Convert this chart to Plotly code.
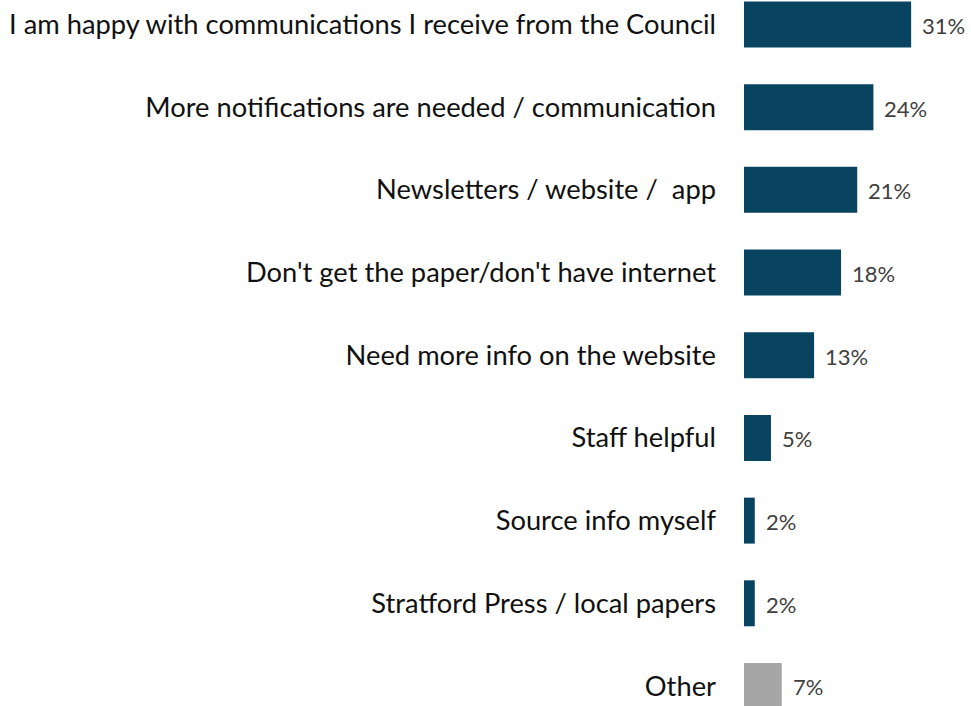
import plotly.graph_objects as go

# Survey responses about council communications (percent of respondents)
categories = [
    "I am happy with communications I receive from the Council",
    "More notifications are needed / communication",
    "Newsletters / website /  app",
    "Don't get the paper/don't have internet",
    "Need more info on the website",
    "Staff helpful",
    "Source info myself",
    "Stratford Press / local papers",
    "Other",
]
values = [31, 24, 21, 18, 13, 5, 2, 2, 7]
value_labels = ["31%", "24%", "21%", "18%", "13%", "5%", "2%", "2%", "7%"]

MAIN_COLOR = "#08445F"
OTHER_COLOR = "#A6A6A6"
colors = [OTHER_COLOR if c == "Other" else MAIN_COLOR for c in categories]

FONT = "Lato"

fig = go.Figure(
    go.Bar(
        x=values,
        y=categories,
        orientation="h",
        marker=dict(color=colors, line=dict(width=0)),
        width=0.556,
        hoverinfo="skip",
    )
)

# Percent labels just past the end of each bar
for cat, val, lab in zip(categories, values, value_labels):
    fig.add_annotation(
        x=val, y=cat, text=lab, showarrow=False,
        xanchor="left", yanchor="middle", xshift=9, yshift=-1,
        font=dict(family=FONT, size=22, color="#404040"),
    )

fig.update_layout(
    width=971, height=706,
    margin=dict(l=744, r=0, t=0, b=0),
    paper_bgcolor="white", plot_bgcolor="white",
    showlegend=False,
    font=dict(family=FONT),
)
fig.update_xaxes(
    range=[0, 42.1], visible=False, showgrid=False, zeroline=False,
)
fig.update_yaxes(
    categoryorder="array", categoryarray=categories[::-1],
    range=[-0.242, 8.296],
    showgrid=False, zeroline=False, showline=False, ticks="",
    tickfont=dict(family=FONT, size=27.3, color="#111111"),
    ticklabelstandoff=27,
    automargin=False,
)

fig.write_html("out.html")
